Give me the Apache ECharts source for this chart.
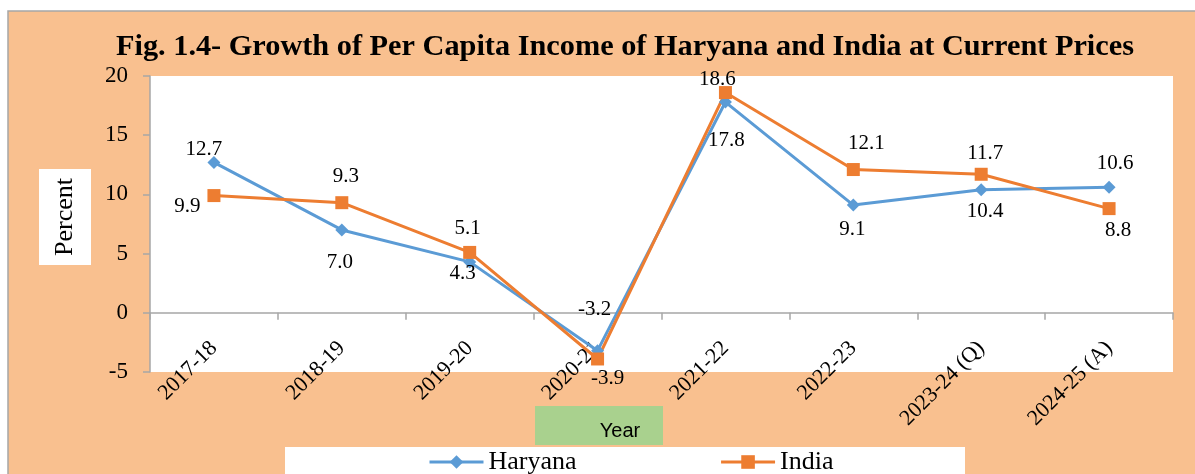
<!DOCTYPE html>
<html>
<head>
<meta charset="utf-8">
<script src="https://cdn.jsdelivr.net/npm/echarts@6/dist/echarts.min.js"></script>
<style>
html, body { margin: 0; padding: 0; background: #fff; }
#chart { width: 1195px; height: 474px; }
</style>
</head>
<body>
<div id="chart"></div>
<script>
// 数据
var years = ['2017-18', '2018-19', '2019-20', '2020-21', '2021-22', '2022-23', '2023-24 (Q)', '2024-25 (A)']
var haryana = [12.7, 7.0, 4.3, -3.2, 17.8, 9.1, 10.4, 10.6]
var india = [9.9, 9.3, 5.1, -3.9, 18.6, 12.1, 11.7, 8.8]

// label placement (style only)
var haryanaLabelPos = ['top', 'bottom', 'bottom', 'top', 'bottom', 'bottom', 'bottom', 'top']
var haryanaLabelOff = [[-10, 9], [-2, 11], [-7, -10], [-3, -19], [1, 16], [-1, 2], [4, 0], [6, -2]]
var indiaLabelPos = ['left', 'top', 'top', 'bottom', 'top', 'top', 'top', 'bottom']
var indiaLabelOff = [[-2, 11], [4, -4], [-2, -2], [10, -2], [-8, 9], [13, -4], [4, 1], [9, 0]]

var serif = '"Liberation Serif", "DejaVu Serif", serif'

function buildData (vals, pos, off) {
    return vals.map(function (v, i) {
        return {
            value: v,
            label: { position: pos[i], offset: off[i] }
        }
    })
}

var myChart = echarts.init(document.getElementById('chart'))
var option = {
    animation: false,
    textStyle: { fontFamily: serif },
    title: {
        text: 'Fig. 1.4- Growth of Per Capita Income of Haryana and India at Current Prices',
        left: 620,
        textAlign: 'center',
        top: 27,
        textStyle: { fontFamily: serif, fontSize: 30.3, fontWeight: 'bold', color: '#000' }
    },
    graphic: [
        {
            type: 'rect', z: -10, silent: true,
            shape: { x: 8, y: 11, width: 1220, height: 480 },
            style: { fill: '#F9C08F', stroke: '#A6A6A6', lineWidth: 1.5 }
        },
        {
            type: 'rect', z: -5, silent: true,
            shape: { x: 39, y: 169, width: 52, height: 96 },
            style: { fill: '#fff' }
        },
        {
            type: 'text', silent: true,
            x: 65, y: 217, rotation: Math.PI / 2,
            style: { text: 'Percent', fontFamily: serif, fontSize: 26, fill: '#000', align: 'center', verticalAlign: 'middle' }
        },
        {
            type: 'rect', z: -5, silent: true,
            shape: { x: 535, y: 406, width: 128, height: 39 },
            style: { fill: '#A9D18E' }
        },
        {
            type: 'text', silent: true,
            x: 620, y: 431,
            style: { text: 'Year', fontFamily: '"Liberation Sans", Arial, sans-serif', fontSize: 20, fill: '#000', align: 'center', verticalAlign: 'middle' }
        },
        {
            type: 'rect', z: -5, silent: true,
            shape: { x: 285, y: 447, width: 680, height: 40 },
            style: { fill: '#fff' }
        }
    ],
    legend: {
        left: 423,
        top: 444,
        itemGap: 143,
        itemWidth: 54,
        itemHeight: 17,
        lineStyle: { width: 3 },
        textStyle: { fontFamily: serif, fontSize: 26, color: '#000' },
        data: ['Haryana', 'India']
    },
    grid: {
        left: 150,
        top: 76,
        right: 22,
        bottom: 102,
        show: true,
        backgroundColor: '#fff',
        borderWidth: 0
    },
    xAxis: {
        type: 'category',
        data: years,
        boundaryGap: true,
        offset: -59.2,
        axisLine: { onZero: false, lineStyle: { color: '#A6A6A6', width: 1.5 } },
        axisTick: { show: true, length: 7, lineStyle: { color: '#A6A6A6', width: 1.5 } },
        axisLabel: {
            rotate: 45,
            margin: 32,
            interval: 0,
            fontFamily: serif,
            fontSize: 22,
            color: '#000'
        }
    },
    yAxis: {
        type: 'value',
        min: -5,
        max: 20,
        interval: 5,
        axisLine: { show: true, lineStyle: { color: '#A6A6A6', width: 1.5 } },
        axisTick: { show: true, length: 7, lineStyle: { color: '#A6A6A6', width: 1.5 } },
        splitLine: { show: false },
        axisLabel: { margin: 22, fontFamily: serif, fontSize: 23, color: '#000' }
    },
    series: [
        {
            name: 'Haryana',
            type: 'line',
            color: '#5B9BD5',
            symbol: 'diamond',
            symbolSize: 13,
            lineStyle: { width: 3 },
            label: {
                show: true,
                fontFamily: serif,
                fontSize: 21,
                color: '#000',
                formatter: function (p) { return p.value.toFixed(1) }
            },
            data: buildData(haryana, haryanaLabelPos, haryanaLabelOff)
        },
        {
            name: 'India',
            type: 'line',
            color: '#ED7D31',
            symbol: 'rect',
            symbolSize: 13,
            lineStyle: { width: 3 },
            label: {
                show: true,
                fontFamily: serif,
                fontSize: 21,
                color: '#000',
                formatter: function (p) { return p.value.toFixed(1) }
            },
            data: buildData(india, indiaLabelPos, indiaLabelOff)
        }
    ]
}
myChart.setOption(option)
</script>
</body>
</html>
